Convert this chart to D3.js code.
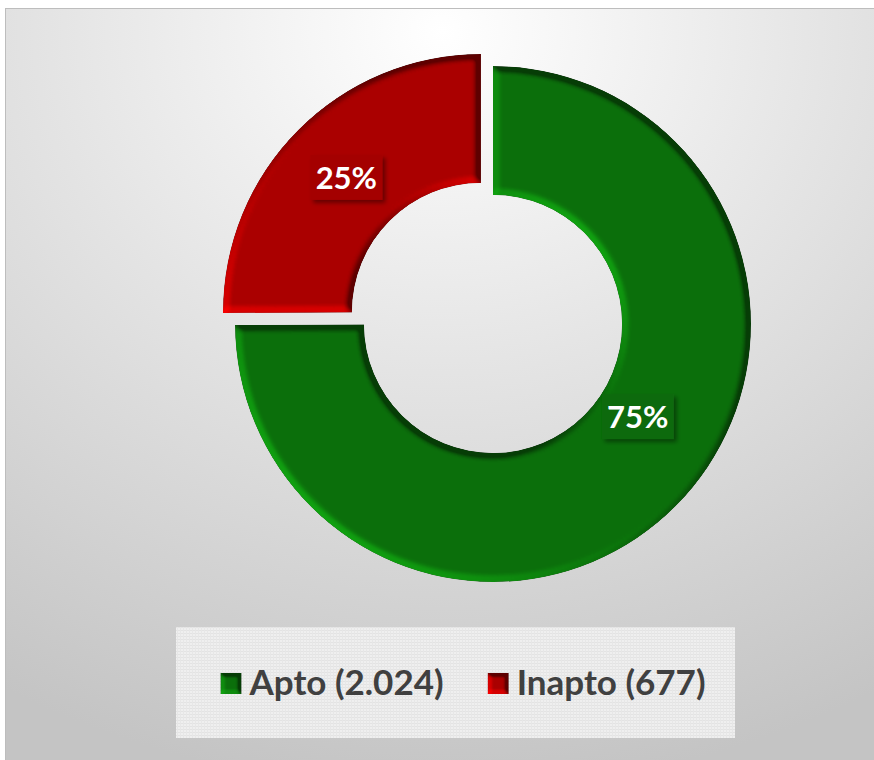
<!DOCTYPE html>
<html>
<head>
<meta charset="utf-8">
<script src="https://cdn.jsdelivr.net/npm/d3@7"></script>
<style>
  body { margin: 0; background: #fff; }
  svg { display: block; }
  text { font-family: Lato, "Open Sans", sans-serif; font-weight: bold; }
</style>
</head>
<body>
<div id="chart"></div>
<script>
// chart data
var categories = ["Apto", "Inapto"];
var counts = [2024, 677];
var countLabels = ["2.024", "677"];

var width = 874, height = 760;
var cx = 493, cy = 324;
var outerR = 258, innerR = 129;
var explode = 17;

var color = d3.scaleOrdinal().domain(categories).range(["#0b6f0b", "#aa0000"]);

var svg = d3.select("#chart").append("svg")
    .attr("width", width)
    .attr("height", height);

var defs = svg.append("defs");

// background gradient of the chart area
var bg = defs.append("radialGradient").attr("id", "bg")
    .attr("cx", "50%").attr("cy", "3%").attr("r", "100%")
    .attr("fx", "50%").attr("fy", "3%");
bg.append("stop").attr("offset", "0%").attr("stop-color", "#ffffff");
bg.append("stop").attr("offset", "45%").attr("stop-color", "#e4e4e4");
bg.append("stop").attr("offset", "100%").attr("stop-color", "#c4c4c4");

// canvas like texture of the legend box
var pat = defs.append("pattern").attr("id", "canvas")
    .attr("patternUnits", "userSpaceOnUse")
    .attr("width", 3).attr("height", 3);
pat.append("rect").attr("width", 3).attr("height", 3).attr("fill", "#efefef");
pat.append("rect").attr("width", 3).attr("height", 1).attr("fill", "#e3e3e3");
pat.append("rect").attr("width", 1).attr("height", 3).attr("fill", "#e7e7e7");

// bevel look for slices
function bevel(id, blur, scale) {
    var f = defs.append("filter").attr("id", id)
        .attr("x", "-5%").attr("y", "-5%").attr("width", "110%").attr("height", "110%")
        .attr("color-interpolation-filters", "sRGB");
    f.append("feGaussianBlur").attr("in", "SourceAlpha").attr("stdDeviation", blur).attr("result", "blur");
    f.append("feDiffuseLighting").attr("in", "blur").attr("surfaceScale", scale)
        .attr("diffuseConstant", 1).attr("lighting-color", "#fff").attr("result", "light")
      .append("feDistantLight").attr("azimuth", 135).attr("elevation", 30);
    f.append("feComposite").attr("in", "SourceGraphic").attr("in2", "light")
        .attr("operator", "arithmetic").attr("k1", 0.9).attr("k2", 0.55).attr("k3", 0).attr("k4", 0)
        .attr("result", "lit");
    f.append("feComposite").attr("in", "lit").attr("in2", "SourceAlpha").attr("operator", "in");
}
bevel("bevel", 3.5, 7);
bevel("bevelSmall", 2, 5);

var shadow = defs.append("filter").attr("id", "shadow")
    .attr("x", "-20%").attr("y", "-20%").attr("width", "150%").attr("height", "150%");
shadow.append("feDropShadow").attr("dx", 3).attr("dy", 3).attr("stdDeviation", 2)
    .attr("flood-color", "#000").attr("flood-opacity", 0.4);

// chart area
svg.append("rect")
    .attr("x", 5.5).attr("y", 8.5)
    .attr("width", width).attr("height", height)
    .attr("fill", "url(#bg)")
    .attr("stroke", "#bdbdbd");

var data = categories.map(function(c, i) {
    return { name: c, value: counts[i], label: countLabels[i] };
});
var total = d3.sum(counts);

var pie = d3.pie().sort(null).value(function(d) { return d.value; });
var arcs = pie(data);

var arc = d3.arc().innerRadius(innerR).outerRadius(outerR);

// where the percent labels sit: fraction along the slice and radius
var labelSpot = { "Apto": [0.455, 172], "Inapto": [0.5, 190] };

function offset(d) {
    if (d.data.name !== "Inapto") return [0, 0];
    var a = (d.startAngle + d.endAngle) / 2;
    return [Math.sin(a) * explode, -Math.cos(a) * explode];
}

var slices = svg.selectAll(".slice")
    .data(arcs)
    .enter()
    .append("g")
    .attr("class", "slice")
    .attr("transform", function(d) {
        var o = offset(d);
        return "translate(" + (cx + o[0]) + "," + (cy + o[1]) + ")";
    });

slices.append("path")
    .attr("d", arc)
    .attr("fill", function(d) { return color(d.data.name); })
    .attr("filter", "url(#bevel)");

// percent labels
slices.each(function(d) {
    var g = d3.select(this);
    var spot = labelSpot[d.data.name];
    var a = d.startAngle + (d.endAngle - d.startAngle) * spot[0];
    var x = Math.sin(a) * spot[1], y = -Math.cos(a) * spot[1];
    var txt = Math.round(d.value / total * 100) + "%";
    var lg = g.append("g").attr("transform", "translate(" + x + "," + y + ")");
    lg.append("rect")
        .attr("x", -36).attr("y", -23)
        .attr("width", 72).attr("height", 45)
        .attr("fill", d3.color(color(d.data.name)).darker(0.1))
        .attr("filter", "url(#shadow)");
    lg.append("text")
        .attr("text-anchor", "middle")
        .attr("y", 11)
        .attr("fill", "#fff")
        .style("font-size", "31px")
        .text(txt);
});

// legend
var legend = svg.append("g");
legend.append("rect")
    .attr("x", 176).attr("y", 627)
    .attr("width", 559).attr("height", 111)
    .attr("fill", "url(#canvas)");

var items = legend.selectAll(".item")
    .data(data)
    .enter()
    .append("g")
    .attr("class", "item");

items.append("rect")
    .attr("width", 21).attr("height", 21)
    .attr("y", -22)
    .attr("fill", function(d) { return color(d.name); })
    .attr("filter", "url(#bevelSmall)");

items.append("text")
    .attr("x", 29)
    .attr("fill", "#404040")
    .style("font-size", "35px")
    .text(function(d) { return d.name + " (" + d.label + ")"; });

var gap = 44, pos = [], run = 0;
items.each(function() {
    pos.push(run);
    run += 29 + this.querySelector("text").getComputedTextLength() + gap;
});
run -= gap;
var startX = 463 - run / 2;
items.attr("transform", function(d, i) { return "translate(" + (startX + pos[i]) + ",695)"; });
</script>
</body>
</html>
